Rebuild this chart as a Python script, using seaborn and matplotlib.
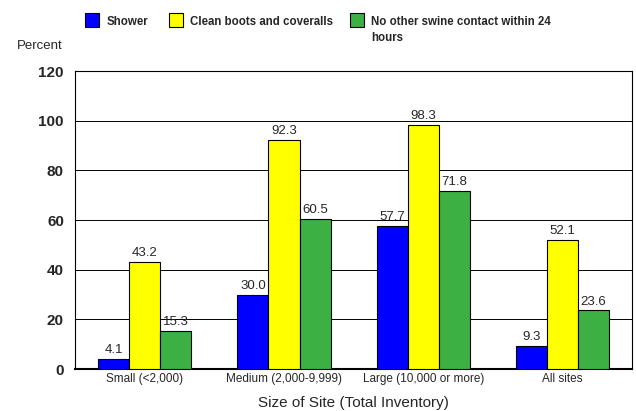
import matplotlib
matplotlib.use("Agg")
import matplotlib.pyplot as plt
import pandas as pd
import seaborn as sns
from matplotlib.patches import Rectangle

sizes = ["Small (<2,000)", "Medium (2,000-9,999)", "Large (10,000 or more)", "All sites"]
series = ["Shower", "Clean boots and coveralls", "No other swine contact within 24 hours"]
legend_labels = ["Shower", "Clean boots and coveralls", "No other swine contact within 24\nhours"]
shower = [4.1, 30.0, 57.7, 9.3]
boots = [43.2, 92.3, 98.3, 52.1]
no_contact = [15.3, 60.5, 71.8, 23.6]
colors = ["#0000ff", "#ffff00", "#3cb043"]


def main():
    rows = []
    for name, vals in zip(series, [shower, boots, no_contact]):
        for s, v in zip(sizes, vals):
            rows.append({"size": s, "measure": name, "pct": v})
    data = pd.DataFrame(rows)

    sns.set_style("white")
    plt.rcParams["font.family"] = ["Liberation Sans", "DejaVu Sans"]

    fig = plt.figure(figsize=(6.36, 4.11), dpi=100)
    ax = fig.add_axes([0.118, 0.102, 0.876, 0.725])

    sns.barplot(
        data, x="size", y="pct", hue="measure", hue_order=series, order=sizes,
        palette=colors, width=0.67, gap=0, edgecolor="black", linewidth=0.8,
        saturation=1, legend=False, ax=ax, zorder=3,
    )

    for cont in ax.containers:
        ax.bar_label(cont, fmt="%.1f", padding=2, fontsize=9.5)

    ax.set_ylim(0, 120)
    ax.set_yticks(range(0, 121, 20))
    ax.yaxis.grid(True, color="black", linewidth=0.7)
    ax.set_axisbelow(True)
    for sp in ax.spines.values():
        sp.set_color("black")
        sp.set_linewidth(0.8)
    ax.spines["bottom"].set_linewidth(1.5)
    ax.tick_params(axis="y", labelsize=11, length=0, pad=8)
    ax.tick_params(axis="x", labelsize=8.5, length=0, pad=3)
    for t in ax.get_yticklabels():
        t.set_fontweight("bold")
    ax.set_ylabel("")
    ax.set_xlabel("Size of Site (Total Inventory)", fontsize=11, labelpad=8)
    fig.text(0.027, 0.888, "Percent", fontsize=9.5, va="center")

    # legend drawn by hand so the wrapped label lines up on its first line
    box_x = [0.134, 0.266, 0.550]
    for x, c, lab in zip(box_x, colors, legend_labels):
        fig.add_artist(Rectangle((x, 0.934), 0.022, 0.034, transform=fig.transFigure,
                                 facecolor=c, edgecolor="black", linewidth=0.8))
        fig.text(x + 0.033, 0.961, lab, fontsize=8.3, fontweight="bold",
                 va="top", linespacing=1.45)

    fig.savefig("out.png", dpi=100)


if __name__ == "__main__":
    main()
